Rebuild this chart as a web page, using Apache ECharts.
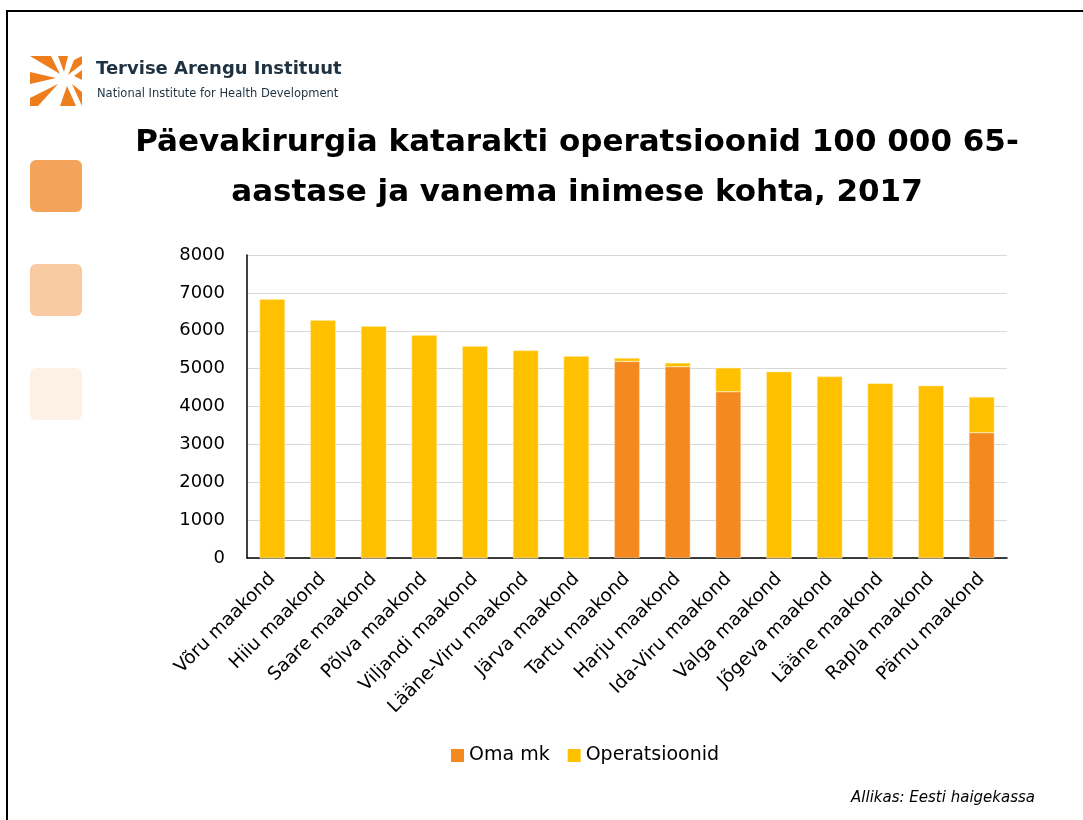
<!DOCTYPE html>
<html lang="et" style="height: 100%">
<head>
    <meta charset="UTF-8">
    <title>Päevakirurgia katarakti operatsioonid</title>
    <script src="https://cdn.jsdelivr.net/npm/echarts@6/dist/echarts.min.js"></script>
</head>
<body style="height: 100%; margin: 0">
<div id="main" style="width: 1083px; height: 820px"></div>
<script>
    var maakonnad = ['Võru maakond', 'Hiiu maakond', 'Saare maakond', 'Põlva maakond', 'Viljandi maakond',
        'Lääne-Viru maakond', 'Järva maakond', 'Tartu maakond', 'Harju maakond', 'Ida-Viru maakond',
        'Valga maakond', 'Jõgeva maakond', 'Lääne maakond', 'Rapla maakond', 'Pärnu maakond'];
    // oma maakonnas tehtud operatsioonid
    var omaMk = [0, 0, 0, 0, 0, 0, 0, 5190, 5050, 4390, 0, 0, 0, 0, 3310];
    // ülejäänud operatsioonid (virnas omaMk peal)
    var operatsioonid = [6830, 6280, 6120, 5880, 5590, 5480, 5330, 90, 100, 630, 4920, 4790, 4610, 4550, 940];
    var yTicks = [0, 1000, 2000, 3000, 4000, 5000, 6000, 7000, 8000];

    var font = '"DejaVu Sans", "Noto Sans", sans-serif';

    var myChart = echarts.init(document.getElementById('main'));
    var option = {
        backgroundColor: '#fff',
        animation: false,
        title: {
            text: 'Päevakirurgia katarakti operatsioonid 100 000 65-\naastase ja vanema inimese kohta, 2017',
            left: 572,
            top: 113,
            textAlign: 'center',
            textStyle: {
                fontFamily: font,
                fontSize: 31,
                fontWeight: 'bold',
                color: '#000',
                lineHeight: 50
            }
        },
        legend: {
            data: ['Oma mk', 'Operatsioonid'],
            left: 446,
            top: 741,
            itemWidth: 13,
            itemHeight: 13,
            itemGap: 18,
            icon: 'rect',
            itemStyle: {borderWidth: 0},
            textStyle: {fontFamily: font, fontSize: 19, color: '#000'}
        },
        grid: {left: 247, right: 76, top: 255, bottom: 262},
        xAxis: {
            type: 'category',
            data: maakonnad,
            axisLine: {lineStyle: {color: '#000', width: 1.5}},
            axisTick: {show: false},
            axisLabel: {
                interval: 0,
                rotate: 45,
                margin: 18,
                fontFamily: font,
                fontSize: 18.5,
                color: '#000'
            }
        },
        yAxis: {
            type: 'value',
            min: yTicks[0],
            max: yTicks[yTicks.length - 1],
            interval: 1000,
            axisLine: {show: true, lineStyle: {color: '#000', width: 1.5}},
            axisTick: {show: false},
            splitLine: {lineStyle: {color: '#d9d9d9', width: 1}},
            axisLabel: {
                fontFamily: font, fontSize: 18, color: '#000', margin: 22,
                formatter: function (v) { return String(v); }
            }
        },
        series: [{
            name: 'Oma mk',
            type: 'bar',
            stack: 'kokku',
            barWidth: '50%',
            itemStyle: {color: '#f4891f', borderColor: '#fbe3c4', borderWidth: 0.5},
            data: omaMk
        }, {
            name: 'Operatsioonid',
            type: 'bar',
            stack: 'kokku',
            barWidth: '50%',
            itemStyle: {color: '#ffc000', borderColor: '#ffeaa0', borderWidth: 0.5},
            data: operatsioonid
        }],
        graphic: [
            // raam
            {type: 'rect', shape: {x: 6, y: 10, width: 1080, height: 2}, style: {fill: '#000'}},
            {type: 'rect', shape: {x: 6, y: 10, width: 2, height: 820}, style: {fill: '#000'}},
            // vasakpoolsed ruudud
            {type: 'rect', shape: {x: 30, y: 160, width: 52, height: 52, r: 6}, style: {fill: '#f3a45a'}},
            {type: 'rect', shape: {x: 30, y: 264, width: 52, height: 52, r: 6}, style: {fill: '#f9cba2'}},
            {type: 'rect', shape: {x: 30, y: 368, width: 52, height: 52, r: 6}, style: {fill: '#fdf1e6'}},
            // logo
            {type: 'polygon', shape: {points: [[30, 56], [51, 56], [60, 74]]}, style: {fill: '#ee7d1b'}},
            {type: 'polygon', shape: {points: [[58, 56], [68, 56], [64, 72]]}, style: {fill: '#ee7d1b'}},
            {type: 'polygon', shape: {points: [[74, 60], [82, 56], [82, 64], [68, 75]]}, style: {fill: '#ee7d1b'}},
            {type: 'polygon', shape: {points: [[30, 72], [56, 78], [30, 84]]}, style: {fill: '#ee7d1b'}},
            {type: 'polygon', shape: {points: [[74, 76], [82, 70], [82, 80]]}, style: {fill: '#ee7d1b'}},
            {type: 'polygon', shape: {points: [[30, 98], [58, 84], [38, 106], [30, 106]]}, style: {fill: '#ee7d1b'}},
            {type: 'polygon', shape: {points: [[60, 106], [67, 86], [76, 106]]}, style: {fill: '#ee7d1b'}},
            {type: 'polygon', shape: {points: [[72, 84], [82, 92], [82, 106]]}, style: {fill: '#ee7d1b'}},
            {
                type: 'text', left: 96, top: 60,
                style: {text: 'Tervise Arengu Instituut', fontFamily: font, fontSize: 18, fontWeight: 'bold', fill: '#1e3242'}
            },
            {
                type: 'text', left: 97, top: 88,
                style: {text: 'National Institute for Health Development', fontFamily: font, fontSize: 11.5, fill: '#1e3242'}
            },
            {
                type: 'text', right: 48, top: 791,
                style: {text: 'Allikas: Eesti haigekassa', fontFamily: font, fontSize: 15, fontStyle: 'italic', fill: '#000'}
            }
        ]
    };
    myChart.setOption(option);
</script>
</body>
</html>
